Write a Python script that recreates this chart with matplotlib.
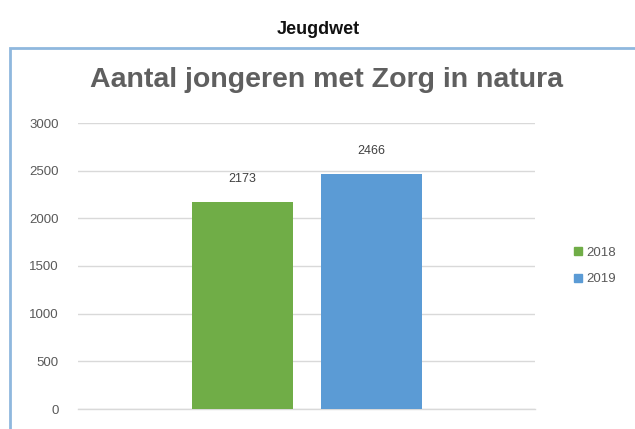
import matplotlib.pyplot as plt
from matplotlib.patches import Rectangle
from matplotlib.lines import Line2D

# data
jaren = ["2018", "2019"]
aantallen = [2173, 2466]
kleuren = ["#70AD47", "#5B9BD5"]
yticks = [0, 500, 1000, 1500, 2000, 2500, 3000]

plt.rcParams['font.family'] = ['Liberation Sans', 'DejaVu Sans']

W, H = 635, 429
fig = plt.figure(figsize=(W / 100, H / 100), dpi=100)

# kader rond de grafiek
fig.patches.append(Rectangle((10 / W, -0.1), 1.0, (H - 48) / H + 0.1,
                             transform=fig.transFigure, fill=False,
                             edgecolor="#8FB8DE", linewidth=2.0))

fig.text(318 / W, 1 - 30 / H, "Jeugdwet", ha="center", va="center",
         fontsize=13, fontweight="bold", color="#111111")
fig.text(327 / W, 1 - 80 / H, "Aantal jongeren met Zorg in natura",
         ha="center", va="center", fontsize=20.5, fontweight="bold",
         color="#5f5f5f")

ax = fig.add_axes([78 / W, (H - 409) / H, (535 - 78) / W, (409 - 123) / H])
x = [0, 1]
bars = ax.bar(x, aantallen, width=0.783, color=kleuren, zorder=3)
for b, v in zip(bars, aantallen):
    ax.annotate(str(v), (b.get_x() + b.get_width() / 2, v),
                xytext=(0, 12), textcoords="offset points",
                ha="center", va="bottom", fontsize=9, color="#404040")

ax.set_xlim(-1.275, 2.268)
ax.set_ylim(0, 3000)
ax.set_yticks(yticks)
ax.set_xticks([])
ax.tick_params(axis="y", length=0, pad=14, labelsize=9.5, labelcolor="#595959")
ax.grid(axis="y", color="#D9D9D9", linewidth=1)
ax.axhline(0, color="#D9D9D9", linewidth=1, clip_on=False, zorder=1)
ax.set_axisbelow(True)
for s in ax.spines.values():
    s.set_visible(False)

handles = [Line2D([], [], marker="s", linestyle="", markersize=6,
                  markerfacecolor=c, markeredgecolor=c) for c in kleuren]
fig.legend(handles, jaren, loc="center left",
           bbox_to_anchor=(560 / W, 1 - 266 / H), frameon=False,
           fontsize=9.5, labelcolor="#595959", handletextpad=0.1,
           handlelength=1.0, labelspacing=1.1)

fig.savefig("out.png", dpi=100)
